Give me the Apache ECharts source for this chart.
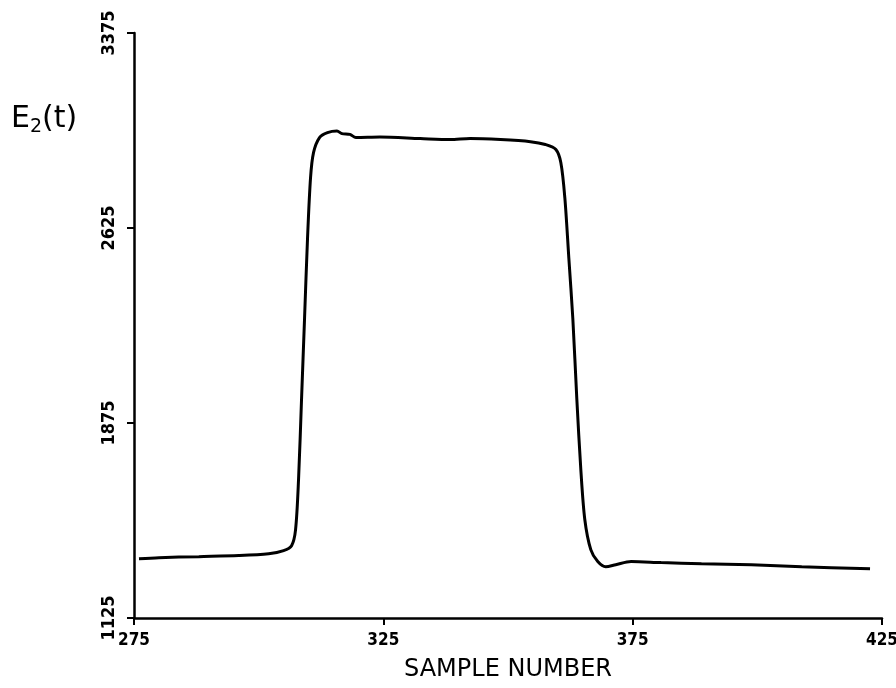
<!DOCTYPE html>
<html><head><meta charset="utf-8">
<script src="https://cdn.jsdelivr.net/npm/echarts@6/dist/echarts.min.js"></script>
<style>html,body{margin:0;padding:0;background:#fff}#c{width:896px;height:688px}</style>
</head><body><div id="c"></div>
<script>
const sampleNumbers = [276,280,288,296,302,305,306.6,307.4,308,308.6,309.2,309.8,310.4,311,312.2,313.8,315.7,316.7,318.3,319.5,324.3,332.4,338.4,342.4,348.5,354.5,357.5,359.6,360.6,361.4,362.2,363,363.8,364.6,365.4,366.6,368,369.6,371.6,374.7,380.7,388.8,398.8,408.9,422.6];
const e2Values = [1353,1357,1361,1365,1372,1384,1403,1465,1659,1968,2277,2586,2818,2915,2973,2992,2998,2988,2985,2973,2975,2969,2965,2969,2965,2957,2946,2927,2876,2741,2509,2277,1968,1697,1504,1388,1342,1322,1330,1342,1338,1334,1330,1322,1314];
const xTicks = [275,325,375,425];
const yTicks = [1125,1875,2625,3375];

const chart = echarts.init(document.getElementById('c'), null, {renderer:'canvas'});
const font = '"DejaVu Sans Condensed","DejaVu Sans",sans-serif';
chart.setOption({
  animation:false,
  backgroundColor:'#fff',
  grid:{left:134,right:14,top:33,bottom:70,containLabel:false,outerBoundsMode:'none'},
  xAxis:{type:'value',min:275,max:425,interval:50,
    axisLine:{lineStyle:{color:'#000',width:2.5}},
    axisTick:{length:7,lineStyle:{color:'#000',width:2}},
    axisLabel:{color:'#000',fontFamily:font,fontWeight:'bold',fontSize:17,margin:14,
      formatter:v=>xTicks.includes(v)?String(v):''},
    splitLine:{show:false},
    name:'SAMPLE NUMBER',nameLocation:'middle',nameGap:40,
    nameTextStyle:{color:'#000',fontFamily:'"DejaVu Sans",sans-serif',fontSize:24}
  },
  yAxis:{type:'value',min:1125,max:3375,interval:750,
    axisLine:{show:true,lineStyle:{color:'#000',width:2.5}},
    axisTick:{show:true,length:7,lineStyle:{color:'#000',width:2}},
    axisLabel:{color:'#000',fontFamily:font,fontWeight:'bold',fontSize:18,rotate:90,margin:16,
      formatter:v=>yTicks.includes(v)?String(v):''},
    splitLine:{show:false}
  },
  graphic:[{type:'text',left:11,top:104,style:{
    rich:{e:{fontSize:30,fontFamily:'"DejaVu Sans",sans-serif',fill:'#000'},s:{fontSize:19,fontFamily:'"DejaVu Sans",sans-serif',fill:'#000',padding:[16,0,0,0]}},
    text:'{e|E}{s|2}{e|(t)}'}}],
  series:[{type:'line',data:sampleNumbers.map((x,i)=>[x,e2Values[i]]),
    showSymbol:false,smooth:0.3,lineStyle:{color:'#000',width:3}}]
});
</script></body></html>
